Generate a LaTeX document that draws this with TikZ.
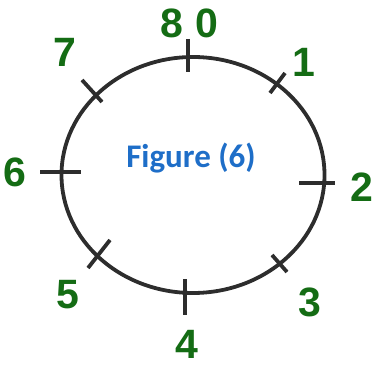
\documentclass[tikz,border=0pt]{standalone}
\usepackage{fontspec}
\setmainfont{Liberation Sans}
\newfontfamily\figfont{Carlito}
\definecolor{lblgreen}{RGB}{20,108,20}
\definecolor{figblue}{RGB}{30,110,200}
\definecolor{ringgray}{RGB}{45,45,45}
\tikzset{
  num/.style={text=lblgreen, font=\fontsize{41}{41}\selectfont\bfseries, inner sep=0pt},
  tick/.style={draw=ringgray, line width=3.8pt},
  ring/.style={draw=ringgray, line width=3.8pt},
}
\begin{document}
\begin{tikzpicture}[x=1pt,y=1pt]
\useasboundingbox (0,0) rectangle (382,372);
\draw[ring] (193,197) ellipse [x radius=131.5, y radius=118];
% ticks
\coordinate (t0a) at (188,333); \coordinate (t0b) at (188,300);
\coordinate (t1a) at (285,299); \coordinate (t1b) at (270,279);
\coordinate (t2a) at (299,189); \coordinate (t2b) at (335,189);
\coordinate (t3a) at (272,117); \coordinate (t3b) at (287,100);
\coordinate (t4a) at (185,93);  \coordinate (t4b) at (185,57);
\coordinate (t5a) at (110,132); \coordinate (t5b) at (88,104);
\coordinate (t6a) at (40,200);  \coordinate (t6b) at (81,200);
\coordinate (t7a) at (82,292);  \coordinate (t7b) at (102,270);
\foreach \i in {0,...,7} {\draw[tick] (t\i a) -- (t\i b);}
% labels
\node[num] (l8) at (172,349) {8};
\node[num] (l0) at (207,349) {0};
\node[num] (l7) at (65,320) {7};
\node[num] (l1) at (304,310) {1};
\node[num] (l6) at (15,200) {6};
\node[num] (l2) at (362,185) {2};
\node[num] (l5) at (68,77) {5};
\node[num] (l3) at (310,70) {3};
\node[num] (l4) at (187,28) {4};
\node[text=figblue, font=\figfont\fontsize{33}{33}\selectfont\bfseries, inner sep=0pt] (fig) at (191,214) {Figure (6)};
\end{tikzpicture}
\end{document}
